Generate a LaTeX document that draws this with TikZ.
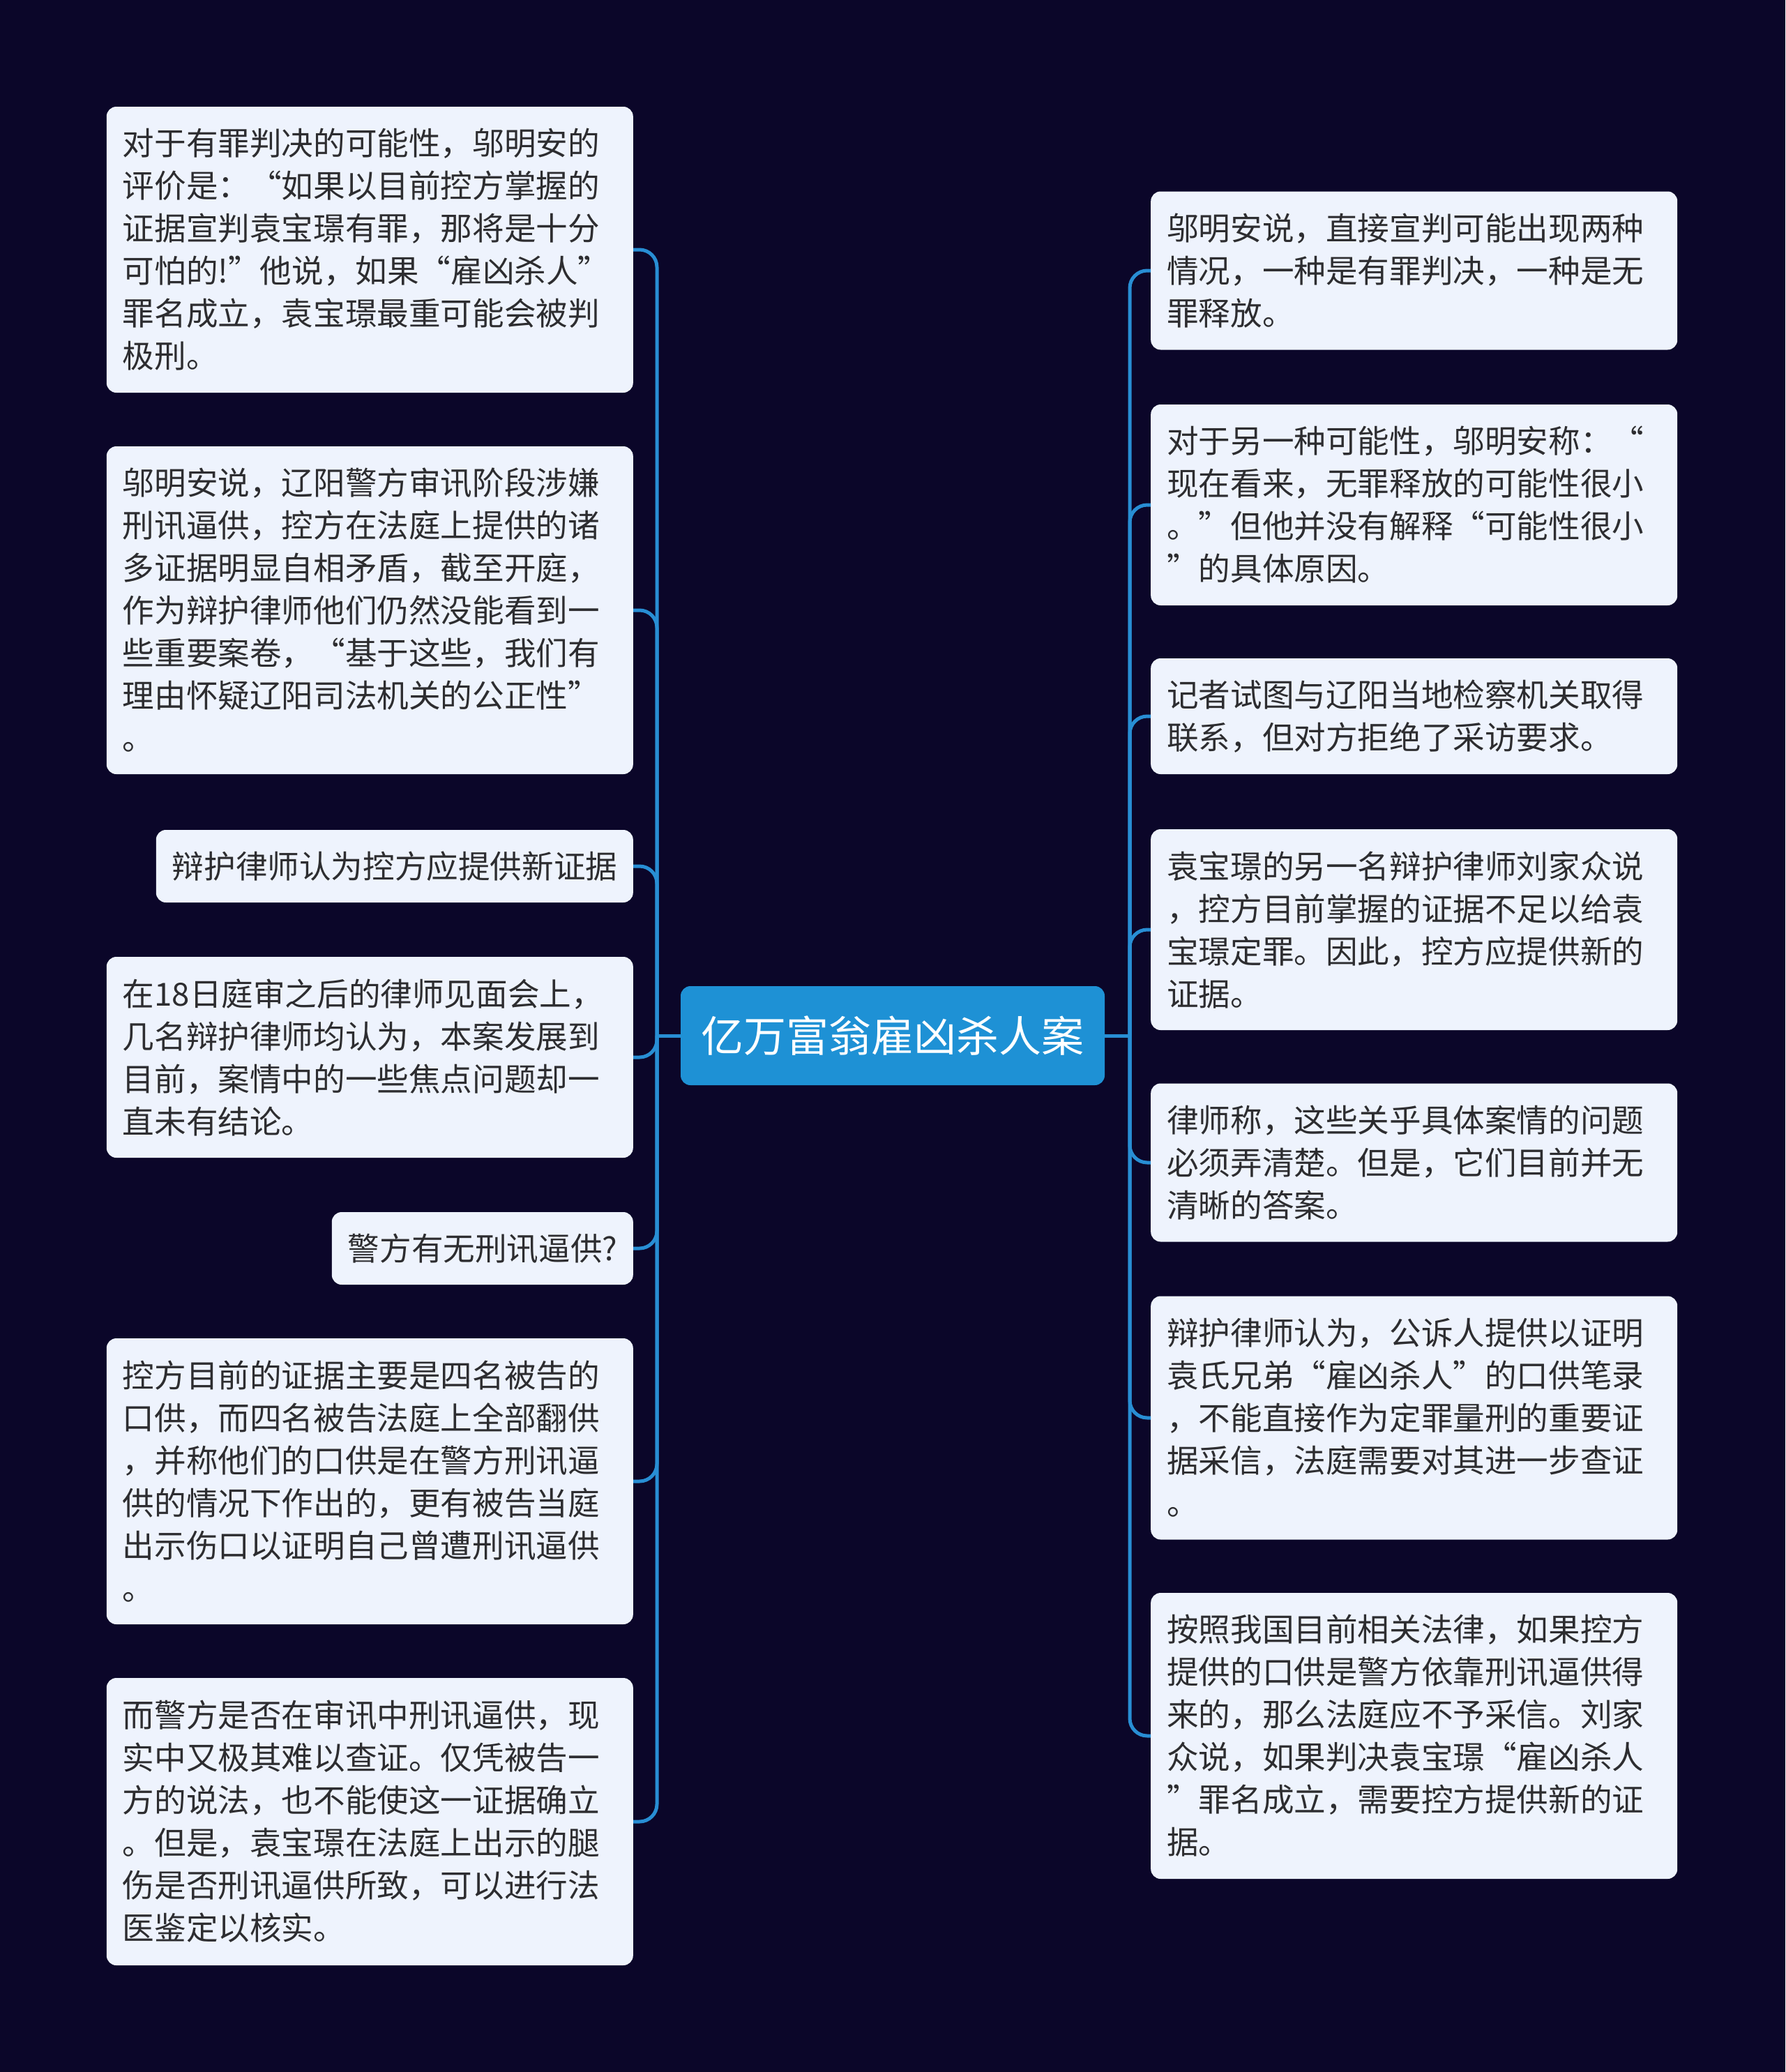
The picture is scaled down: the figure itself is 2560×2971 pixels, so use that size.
\documentclass[tikz,border=0pt]{standalone}
\usepackage{fontspec}
\setmainfont{Noto Sans CJK SC}
\definecolor{bg}{RGB}{11,6,41}
\definecolor{boxbg}{RGB}{238,243,253}
\definecolor{ink}{RGB}{45,45,48}
\definecolor{main}{RGB}{30,145,213}
\definecolor{branch}{RGB}{40,142,212}
\begin{document}
\begin{tikzpicture}[x=1pt,y=-1pt,
  leaf/.style={fill=boxbg,text=ink,rounded corners=14pt,inner xsep=23pt,inner ysep=0pt,
    align=left,font=\fontsize{45.6}{61}\selectfont},
  conn/.style={draw=branch,line width=5pt,rounded corners=25pt}]
\fill[bg] (0,0) rectangle (2560,2971);
\useasboundingbox (0,0) rectangle (2560,2971);
\node[fill=main,text=white,rounded corners=14pt,minimum width=608pt,minimum height=142pt,
  font=\fontsize{61}{70}\selectfont] (root) at (1280,1485) {亿万富翁雇凶杀人案};
\foreach \i/\y/\h/\w/\v in {
  1/358/410/709/{对于有罪判决的可能性，邬明安的\\评价是：“如果以目前控方掌握的\\证据宣判袁宝璟有罪，那将是十分\\可怕的!”他说，如果“雇凶杀人”\\罪名成立，袁宝璟最重可能会被判\\极刑。},
  2/875/470/709/{邬明安说，辽阳警方审讯阶段涉嫌\\刑讯逼供，控方在法庭上提供的诸\\多证据明显自相矛盾，截至开庭，\\作为辩护律师他们仍然没能看到一\\些重要案卷，“基于这些，我们有\\理由怀疑辽阳司法机关的公正性”\\。},
  3/1242/104/638/{辩护律师认为控方应提供新证据},
  4/1516/288/709/{在18日庭审之后的律师见面会上，\\几名辩护律师均认为，本案发展到\\目前，案情中的一些焦点问题却一\\直未有结论。},
  5/1790/104/386/{警方有无刑讯逼供?},
  6/2124/410/709/{控方目前的证据主要是四名被告的\\口供，而四名被告法庭上全部翻供\\，并称他们的口供是在警方刑讯逼\\供的情况下作出的，更有被告当庭\\出示伤口以证明自己曾遭刑讯逼供\\。},
  7/2612/412/709/{而警方是否在审讯中刑讯逼供，现\\实中又极其难以查证。仅凭被告一\\方的说法，也不能使这一证据确立\\。但是，袁宝璟在法庭上出示的腿\\伤是否刑讯逼供所致，可以进行法\\医鉴定以核实。}}
  \node[leaf,anchor=east,text width=\w pt,minimum height=\h pt] (l\i) at (908,\y) {\v};
\foreach \i/\y/\h/\v in {
  1/388/227/{邬明安说，直接宣判可能出现两种\\情况，一种是有罪判决，一种是无\\罪释放。},
  2/724/288/{对于另一种可能性，邬明安称：“\\现在看来，无罪释放的可能性很小\\。”但他并没有解释“可能性很小\\”的具体原因。},
  3/1027/166/{记者试图与辽阳当地检察机关取得\\联系，但对方拒绝了采访要求。},
  4/1333/288/{袁宝璟的另一名辩护律师刘家众说\\，控方目前掌握的证据不足以给袁\\宝璟定罪。因此，控方应提供新的\\证据。},
  5/1667/227/{律师称，这些关乎具体案情的问题\\必须弄清楚。但是，它们目前并无\\清晰的答案。},
  6/2033/349/{辩护律师认为，公诉人提供以证明\\袁氏兄弟“雇凶杀人”的口供笔录\\，不能直接作为定罪量刑的重要证\\据采信，法庭需要对其进一步查证\\。},
  7/2489/410/{按照我国目前相关法律，如果控方\\提供的口供是警方依靠刑讯逼供得\\来的，那么法庭应不予采信。刘家\\众说，如果判决袁宝璟“雇凶杀人\\”罪名成立，需要控方提供新的证\\据。}}
  \node[leaf,anchor=west,text width=709pt,minimum height=\h pt] (r\i) at (1650,\y) {\v};
\coordinate (lj) at (942,1485);
\coordinate (rj) at (1620,1485);
\draw[conn] (root.west) -- (lj);
\draw[conn] (root.east) -- (rj);
\foreach \i in {1,...,7}{
  \draw[conn] (lj) |- (l\i.east);
  \draw[conn] (rj) |- (r\i.west);
}
\end{tikzpicture}
\end{document}
